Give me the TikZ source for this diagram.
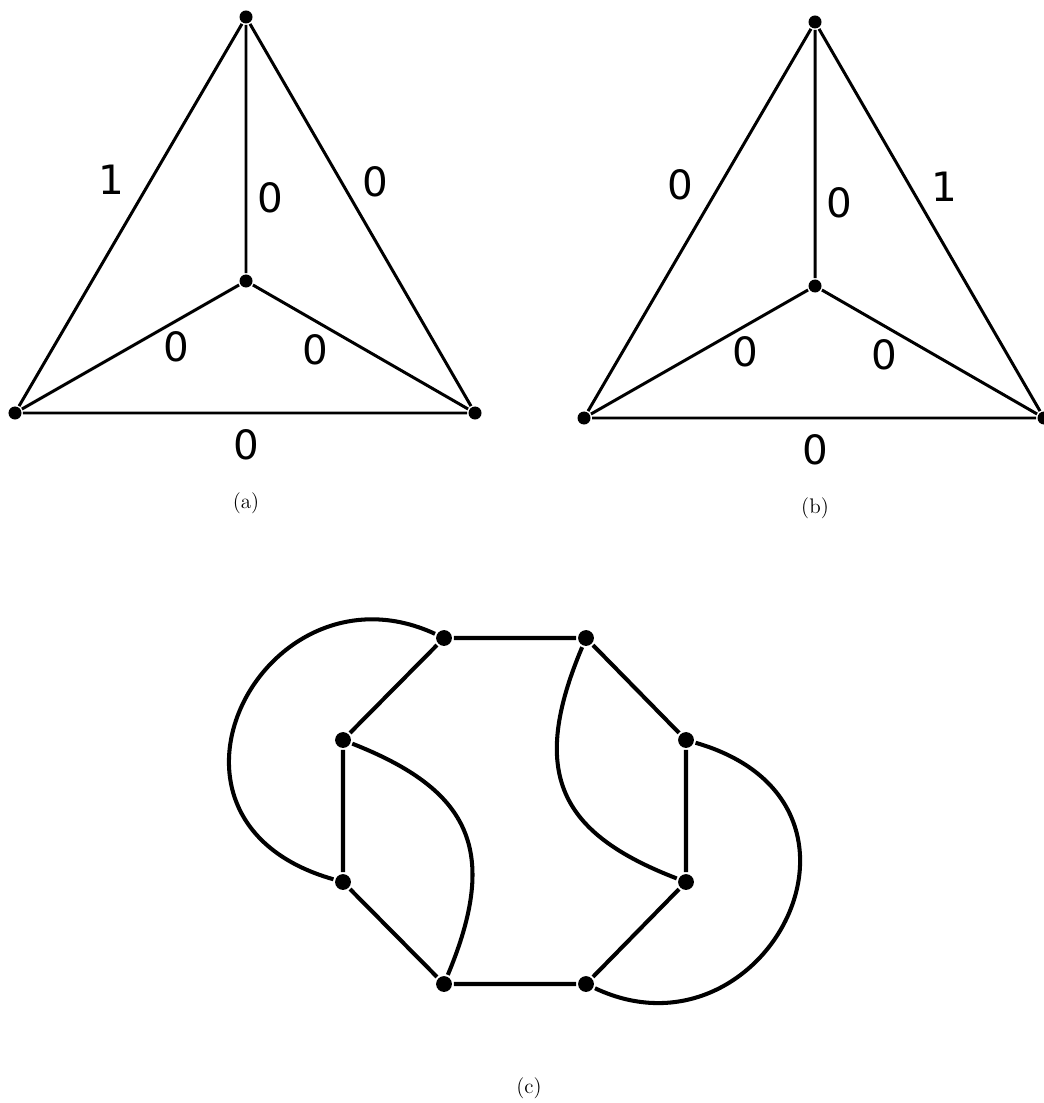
\documentclass[tikz,border=0pt]{standalone}
\usepackage{fontspec}
\newfontfamily\numfont{DejaVu Sans}
\usetikzlibrary{calc}

\tikzset{
  vtx/.style={circle,fill=black,inner sep=0pt,minimum size=7.4pt},
  bigvtx/.style={circle,fill=black,inner sep=0pt,minimum size=9pt},
  wt/.style={font=\numfont\fontsize{23}{28}\selectfont,inner sep=0pt},
  sublabel/.style={font=\large,inner sep=0pt}
}

\begin{document}
\begin{tikzpicture}[x=0.2mm,y=-0.2mm,line width=1.7pt]
  \useasboundingbox (0,0) rectangle (1044,1103);
  % triangoli (a) e (b)
  \foreach \dx/\dy/\p/\wl/\wr in {0/0/a/1/0,569/5/b/0/1}{
    \begin{scope}[shift={(\dx,\dy)}]
      \node[vtx] (\p t) at (246,17) {};
      \node[vtx] (\p m) at (246,281) {};
      \node[vtx] (\p l) at (15,413) {};
      \node[vtx] (\p r) at (475,413) {};
      \draw (\p t) -- (\p l) -- (\p r) -- (\p t) -- (\p m);
      \draw (\p l) -- (\p m) -- (\p r);
      % pesi
      \node[wt] (\p w1) at (111,180) {\wl};
      \node[wt] (\p w2) at (270,198) {0};
      \node[wt] (\p w3) at (375,182) {\wr};
      \node[wt] (\p w4) at (176,347) {0};
      \node[wt] (\p w5) at (315,350) {0};
      \node[wt] (\p w6) at (246,445) {0};
      \node[sublabel] (\p cap) at (246,503) {(\p)};
    \end{scope}
  }
  % grafo (c)
  \begin{scope}[line width=2.3pt]
    \node[bigvtx] (c1) at (444,638) {};
    \node[bigvtx] (c2) at (586,638) {};
    \node[bigvtx] (c3) at (686,740) {};
    \node[bigvtx] (c4) at (686,882) {};
    \node[bigvtx] (c5) at (586,984) {};
    \node[bigvtx] (c6) at (444,984) {};
    \node[bigvtx] (c7) at (343,882) {};
    \node[bigvtx] (c8) at (343,740) {};
    \draw (c1) -- (c2) -- (c3) -- (c4) -- (c5) -- (c6) -- (c7) -- (c8) -- (c1);
    \draw (c1) .. controls (265,555) and (125,820) .. (c7);
    \draw (c8) .. controls (470,790) and (500,850) .. (c6);
    \draw (c5) .. controls (764,1068) and (904,803) .. (c3);
    \draw (c4) .. controls (559,833) and (529,773) .. (c2);
  \end{scope}
  \node[sublabel] (ccap) at (529,1088) {(c)};
\end{tikzpicture}
\end{document}
